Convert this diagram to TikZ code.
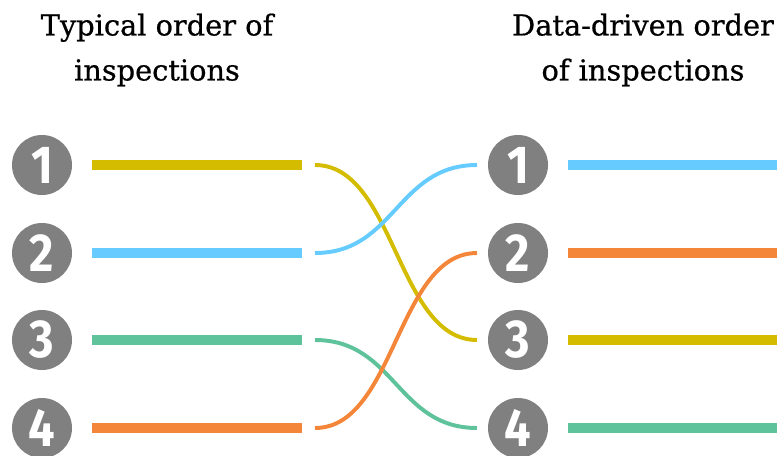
\documentclass[tikz,border=0pt]{standalone}
\usepackage{fontspec}
\setmainfont[FakeBold=0.6]{DejaVu Serif}
\newfontfamily\digitfont[FakeStretch=0.88]{Fira Sans}

\definecolor{insYellow}{HTML}{D4BC00}
\definecolor{insBlue}{HTML}{66CCFF}
\definecolor{insGreen}{HTML}{5EC29A}
\definecolor{insOrange}{HTML}{F4863A}
\definecolor{insGrey}{HTML}{808080}

\tikzset{
  num/.style={circle, fill=insGrey, minimum size=1.5cm, inner sep=0pt,
    text=white, font=\digitfont\bfseries\fontsize{38}{38}\selectfont},
  bar/.style={line width=6.7pt},
  link/.style={line width=2.8pt},
  heading/.style={align=center, font=\fontsize{20.5}{32}\selectfont}
}

\begin{document}
\begin{tikzpicture}[x=0.025cm, y=-0.025cm]
  \useasboundingbox (0,0) rectangle (782,455);

  % Headings above the two columns
  \node[heading] (typical) at (157,50) {Typical order of\\inspections};
  \node[heading] (driven) at (643,50) {Data-driven order\\of inspections};

  % Numbered circles and the end points of bars and links
  \foreach \i/\y in {1/165,2/253,3/340,4/428} {
    \node[num] (l\i) at (42,\y) {\i};
    \node[num] (r\i) at (518,\y) {\i};
    \coordinate (la\i) at (92,\y);
    \coordinate (lb\i) at (302,\y);
    \coordinate (lc\i) at (315,\y);
    \coordinate (rc\i) at (477,\y);
    \coordinate (ra\i) at (568,\y);
    \coordinate (rb\i) at (777,\y);
  }

  % Bars of the typical order
  \foreach \i/\c in {1/insYellow,2/insBlue,3/insGreen,4/insOrange}
    \draw[bar, \c] (la\i) -- (lb\i);
  % Bars of the data-driven order
  \foreach \i/\c in {1/insBlue,2/insOrange,3/insYellow,4/insGreen}
    \draw[bar, \c] (ra\i) -- (rb\i);

  % Links from old position to new position
  \foreach \a/\b/\c in {1/3/insYellow, 3/4/insGreen, 2/1/insBlue, 4/2/insOrange}
    \draw[link, \c] (lc\a) .. controls +(80,0) and +(-80,0) .. (rc\b);

\end{tikzpicture}
\end{document}
